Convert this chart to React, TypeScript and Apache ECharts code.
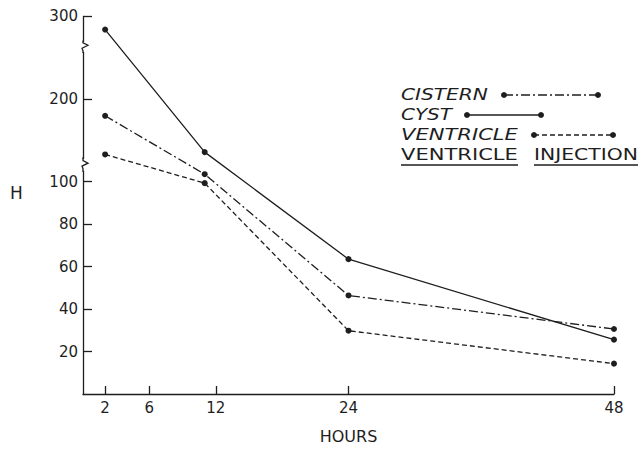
import React, { useEffect, useRef } from "react";
import * as echarts from "echarts";

// ---- data ----
const hours = [2, 11, 24, 48];
const cistern = [192, 103.5, 46.4, 30.6];
const cyst = [293.6, 174.9, 63.5, 25.6];
const ventricle = [173.8, 99.3, 29.8, 14.3];
const xTickValues = [2, 6, 12, 24, 48];
const yTickValues = [20, 40, 60, 80, 100, 200, 300];
const yBreakStarts = [105, 222];
const yBreakEnds = [172, 288];
const yBreakGaps = [6, 5];

const INK = "#1e1e1e";
const FONT = "DejaVu Sans";

const seriesDefs = [
  { name: "CISTERN", values: cistern, dash: [9, 3, 2, 3] as any },
  { name: "CYST", values: cyst, dash: "solid" as any },
  { name: "VENTRICLE", values: ventricle, dash: [5, 3] as any },
];

// legend layout
const legendLayout = [
  { label: "CISTERN", dash: [9, 3, 2, 3], x: 401, y: 94, w: 87, x1: 504, x2: 598 },
  { label: "CYST", dash: null, x: 401, y: 114, w: 51, x1: 467, x2: 541 },
  { label: "VENTRICLE", dash: [5, 3], x: 401, y: 134, w: 117, x1: 534, x2: 613 },
];
const titleWords = [
  { label: "VENTRICLE", x: 401, y: 154, w: 117 },
  { label: "INJECTION", x: 534, y: 154, w: 104 },
];

function measure(text: string, font: string) {
  const c = document.createElement("canvas");
  const ctx = c.getContext("2d")!;
  ctx.font = font;
  return ctx.measureText(text).width;
}

export default function App() {
  const ref = useRef<HTMLDivElement>(null);
  useEffect(() => {
    if (!ref.current) return;
    const chart = echarts.init(ref.current, null, { renderer: "svg" });
    const option: any = {
      animation: false,
      backgroundColor: "#ffffff",
      grid: { left: 83, right: 25, top: 16, bottom: 52.5, containLabel: false },
      xAxis: {
        type: "value",
        min: 0,
        max: 48,
        name: "HOURS",
        nameLocation: "middle",
        nameGap: 34,
        nameTextStyle: { color: INK, fontSize: 16, fontFamily: FONT },
        axisLine: { show: true, onZero: false, lineStyle: { color: INK, width: 1.3 } },
        axisTick: { show: true, inside: true, length: 8, customValues: xTickValues, lineStyle: { color: INK, width: 1.3 } },
        axisLabel: { show: true, customValues: xTickValues, color: INK, fontSize: 15, fontFamily: FONT, margin: 6 },
        splitLine: { show: false },
      },
      yAxis: {
        type: "value",
        min: 0,
        max: 300,
        breaks: yBreakStarts.map((s, i) => ({ start: s, end: yBreakEnds[i], gap: yBreakGaps[i] })),
        breakArea: {
          show: false,
          itemStyle: { opacity: 0, color: "rgba(0,0,0,0)", borderColor: "rgba(0,0,0,0)" },
          expandOnClick: false,
        },
        axisLine: { show: true, onZero: false, lineStyle: { color: INK, width: 1.3 } },
        axisTick: { show: true, inside: true, length: 9, customValues: yTickValues, lineStyle: { color: INK, width: 1.3 } },
        axisLabel: { show: true, customValues: yTickValues, color: INK, fontSize: 15, fontFamily: FONT, margin: 5 },
        splitLine: { show: false },
      },
      series: seriesDefs.map((s) => ({
        name: s.name,
        type: "line",
        data: hours.map((h, i) => [h, s.values[i]]),
        symbol: "circle",
        symbolSize: 6,
        lineStyle: { color: INK, width: 1.3, type: s.dash },
        itemStyle: { color: INK },
        emphasis: { disabled: true },
      })),
    };
    chart.setOption(option);

    // axis break squiggles, positioned through the axis scale
    const x0 = chart.convertToPixel({ xAxisIndex: 0 }, 0) as number;
    const graphics: any[] = [];
    yBreakStarts.forEach((s, i) => {
      const yBot = chart.convertToPixel({ yAxisIndex: 0 }, s) as number;
      const yTop = chart.convertToPixel({ yAxisIndex: 0 }, yBreakEnds[i]) as number;
      const m = (yTop + yBot) / 2;
      graphics.push({
        type: "polyline",
        z: 100,
        shape: {
          points: [
            [x0, yTop - 1],
            [x0, m - 4],
            [x0 + 5, m - 1.5],
            [x0 - 1, m + 1.5],
            [x0, m + 4],
            [x0, yBot + 1],
          ],
        },
        style: { stroke: INK, lineWidth: 1.3, fill: null },
      });
    });

    // H label
    graphics.push({
      type: "text",
      x: 10,
      y: 193,
      style: { text: "H", font: `17px "${FONT}"`, fill: INK, textVerticalAlign: "middle" },
    });

    // legend
    const legFont = `italic 16px "${FONT}"`;
    legendLayout.forEach((l) => {
      const mw = measure(l.label, legFont);
      graphics.push({
        type: "text",
        x: l.x,
        y: l.y,
        scaleX: l.w / mw,
        style: { text: l.label, font: legFont, fill: INK, textVerticalAlign: "middle", textAlign: "left" },
      });
      graphics.push({
        type: "line",
        shape: { x1: l.x1, y1: l.y + 1, x2: l.x2, y2: l.y + 1 },
        style: { stroke: INK, lineWidth: 1.3, lineDash: l.dash || undefined },
      });
      graphics.push({ type: "circle", shape: { cx: l.x1, cy: l.y + 1, r: 3 }, style: { fill: INK } });
      graphics.push({ type: "circle", shape: { cx: l.x2, cy: l.y + 1, r: 3 }, style: { fill: INK } });
    });
    const tFont = `16px "${FONT}"`;
    titleWords.forEach((t) => {
      const mw = measure(t.label, tFont);
      graphics.push({
        type: "text",
        x: t.x,
        y: t.y,
        scaleX: t.w / mw,
        style: { text: t.label, font: tFont, fill: INK, textVerticalAlign: "middle", textAlign: "left" },
      });
      graphics.push({
        type: "line",
        shape: { x1: t.x, y1: t.y + 11, x2: t.x + t.w, y2: t.y + 11 },
        style: { stroke: INK, lineWidth: 1.3 },
      });
    });

    chart.setOption({ graphic: graphics });
    return () => chart.dispose();
  }, []);
  return (
    <div
      ref={ref}
      style={{ position: "fixed", left: 0, top: 0, width: 639, height: 449, background: "#fff" }}
    />
  );
}
